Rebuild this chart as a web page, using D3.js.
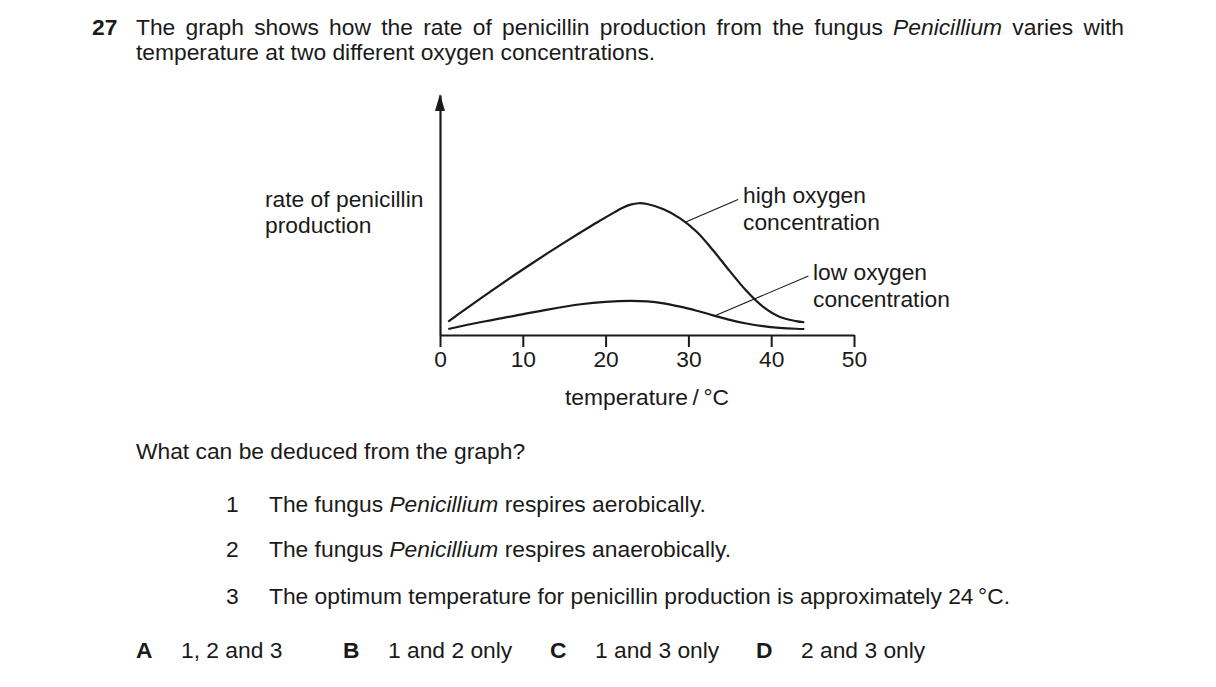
<!DOCTYPE html>
<html>
<head>
<meta charset="utf-8">
<script src="https://cdn.jsdelivr.net/npm/d3@7"></script>
<style>
  body { margin: 0; background: #fff; }
  svg { display: block; font-family: "Liberation Sans", Arial, sans-serif; }
  text { fill: #1a1a1a; }
</style>
</head>
<body>
<svg id="chart" width="1216" height="687"></svg>
<script>
// temperature / °C
const highTemps = [1, 3, 5, 7, 9, 11, 13, 15, 17, 19, 21, 22, 23, 24, 25, 27, 29, 31, 33, 35, 37, 39, 41, 43, 44];
// rate of penicillin production, arbitrary units
const highRates = [5.6, 10.6, 15.5, 20.3, 25.0, 29.6, 34.1, 38.5, 42.8, 47.0, 51.0, 52.9, 54.3, 54.9, 54.6, 52.4, 48.6, 43.0, 35.2, 26.6, 18.4, 11.8, 7.6, 5.8, 5.3];

const lowTemps = [1, 5, 9, 13, 17, 20, 23, 25, 27, 29, 31, 33, 35, 37, 39, 41, 43, 44];
const lowRates = [2.5, 5.4, 8.0, 10.6, 12.8, 13.8, 14.2, 14.0, 13.2, 11.8, 10.1, 8.2, 6.3, 4.8, 3.7, 3.0, 2.6, 2.5];

const xTicks = [0, 10, 20, 30, 40, 50];

// leader lines from each curve to its label
const highLeader = [[29.6, 47.0], [36.0, 56.5]];
const lowLeader = [[33.2, 8.0], [44.5, 24.6]];

const svg = d3.select('#chart');
const ink = '#1a1a1a';
const fs = 22.8;

const x = d3.scaleLinear().domain([0, 50]).range([440, 854]);
const y = d3.scaleLinear().domain([0, 100]).range([335, 95]);

// ---- question header ----
svg.append('text')
  .attr('x', 92).attr('y', 35)
  .attr('font-size', fs).attr('font-weight', 'bold')
  .text('27');

const line1 = svg.append('text')
  .attr('x', 136).attr('y', 35)
  .attr('font-size', fs);
line1.append('tspan').text('The graph shows how the rate of penicillin production from the fungus ');
line1.append('tspan').attr('font-style', 'italic').text('Penicillium');
line1.append('tspan').text(' varies with');

// justify the first line to the right margin
const natural = line1.node().getComputedTextLength();
const gaps = line1.text().split(' ').length - 1;
line1.attr('word-spacing', (1124 - 136 - natural) / gaps);

svg.append('text')
  .attr('x', 136).attr('y', 60)
  .attr('font-size', fs)
  .text('temperature at two different oxygen concentrations.');

// ---- graph ----
const xAxis = d3.axisBottom(x)
  .tickValues(xTicks)
  .tickSize(12)
  .tickSizeOuter(0)
  .tickPadding(4);

const gx = svg.append('g')
  .attr('transform', `translate(0,${y(0)})`)
  .call(xAxis);
gx.select('.domain').attr('stroke', ink).attr('stroke-width', 2.2);
gx.selectAll('.tick line').attr('stroke', ink).attr('stroke-width', 2);
gx.selectAll('.tick text')
  .attr('font-size', fs)
  .attr('font-family', '"Liberation Sans", Arial, sans-serif')
  .attr('fill', ink);

const gy = svg.append('g')
  .attr('transform', `translate(${x(0)},0)`)
  .call(d3.axisLeft(y).tickValues([]).tickSizeOuter(0));
gy.select('.domain').attr('stroke', ink).attr('stroke-width', 2.2);

// arrow head on the y axis
const tipY = y(100) - 1;
svg.append('path')
  .attr('d', `M${x(0)},${tipY} L${x(0) - 5},${tipY + 17} L${x(0) + 5},${tipY + 17} Z`)
  .attr('fill', ink);

const line = d3.line()
  .x(d => x(d[0]))
  .y(d => y(d[1]))
  .curve(d3.curveCatmullRom.alpha(0.5));

const highData = highTemps.map((t, i) => [t, highRates[i]]);
const lowData = lowTemps.map((t, i) => [t, lowRates[i]]);

svg.append('path')
  .datum(highData)
  .attr('d', line)
  .attr('fill', 'none')
  .attr('stroke', ink)
  .attr('stroke-width', 2.2);

svg.append('path')
  .datum(lowData)
  .attr('d', line)
  .attr('fill', 'none')
  .attr('stroke', ink)
  .attr('stroke-width', 2.2);

const straight = d3.line().x(d => x(d[0])).y(d => y(d[1]));
[highLeader, lowLeader].forEach(seg => {
  svg.append('path')
    .attr('d', straight(seg))
    .attr('fill', 'none')
    .attr('stroke', ink)
    .attr('stroke-width', 1.1);
});

// labels
function block(lines, px, py, lh) {
  const t = svg.append('text').attr('font-size', fs);
  lines.forEach((s, i) => {
    t.append('tspan').attr('x', px).attr('y', py + i * lh).text(s);
  });
}
block(['rate of penicillin', 'production'], 265, 207, 26);
block(['high oxygen', 'concentration'], 743, 203, 27);
block(['low oxygen', 'concentration'], 813, 280, 27);

svg.append('text')
  .attr('x', 647).attr('y', 405)
  .attr('text-anchor', 'middle')
  .attr('font-size', fs)
  .text('temperature\u2009/\u2009°C');

// ---- question body ----
svg.append('text')
  .attr('x', 136).attr('y', 459)
  .attr('font-size', fs)
  .text('What can be deduced from the graph?');

const statements = [
  ['The fungus ', 'Penicillium', ' respires aerobically.'],
  ['The fungus ', 'Penicillium', ' respires anaerobically.'],
  ['The optimum temperature for penicillin production is approximately 24\u2009°C.', '', '']
];
const stmtY = [512, 557, 604];
statements.forEach((parts, i) => {
  svg.append('text')
    .attr('x', 226).attr('y', stmtY[i])
    .attr('font-size', fs)
    .text(i + 1);
  const t = svg.append('text')
    .attr('x', 269).attr('y', stmtY[i])
    .attr('font-size', fs);
  t.append('tspan').text(parts[0]);
  if (parts[1]) t.append('tspan').attr('font-style', 'italic').text(parts[1]);
  if (parts[2]) t.append('tspan').text(parts[2]);
});

const optionKeys = ['A', 'B', 'C', 'D'];
const optionTexts = ['1, 2 and 3', '1 and 2 only', '1 and 3 only', '2 and 3 only'];
const keyX = [136, 343, 550, 756];
optionKeys.forEach((k, i) => {
  svg.append('text')
    .attr('x', keyX[i]).attr('y', 658)
    .attr('font-size', fs).attr('font-weight', 'bold')
    .text(k);
  svg.append('text')
    .attr('x', keyX[i] + 45).attr('y', 658)
    .attr('font-size', fs)
    .text(optionTexts[i]);
});
</script>
</body>
</html>
